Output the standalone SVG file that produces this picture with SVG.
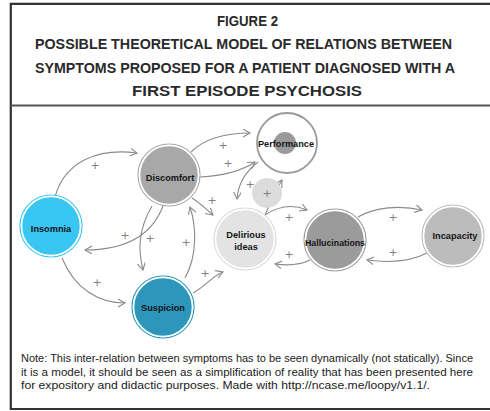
<svg xmlns="http://www.w3.org/2000/svg" width="490" height="411" viewBox="0 0 490 411">
<defs>
<marker id="arr" markerWidth="10" markerHeight="10" refX="7" refY="4" orient="auto" markerUnits="userSpaceOnUse">
<path d="M0,0 L7,4 L0,8" fill="none" stroke="#8a8a8a" stroke-width="1.1"/>
</marker>
</defs>
<style>
.title{font-family:"Liberation Sans",Arial,sans-serif;font-weight:bold;font-size:14px;fill:#2a2a2a;text-anchor:middle}
.note{font-family:"Liberation Sans",Arial,sans-serif;font-size:11px;fill:#222}
.edge{fill:none;stroke:#8a8a8a;stroke-width:1.1;marker-end:url(#arr)}
.plus{font-family:"DejaVu Sans",sans-serif;font-size:11px;fill:#808080;text-anchor:middle}
.lbl{font-family:"Liberation Sans",Arial,sans-serif;font-weight:bold;font-size:9.2px;fill:#151515;text-anchor:middle}
.ring{fill:none;stroke-width:1.2}
.core{stroke:#fff;stroke-width:1.6}
</style>
<rect x="0" y="0" width="490" height="411" fill="#fff"/>
<g id="frame">
<path d="M492,3.8 L10.8,3.8 L10.8,409 L492,409" fill="none" stroke="#333" stroke-width="2.2"/>
<line x1="10.8" y1="105.5" x2="492" y2="105.5" stroke="#555" stroke-width="2"/>
</g>
<g id="title">
<text class="title" x="247.5" y="26" textLength="61" lengthAdjust="spacingAndGlyphs">FIGURE 2</text>
<text class="title" x="243.5" y="49" textLength="417" lengthAdjust="spacingAndGlyphs">POSSIBLE THEORETICAL MODEL OF RELATIONS BETWEEN</text>
<text class="title" x="245" y="73" textLength="420" lengthAdjust="spacingAndGlyphs">SYMPTOMS PROPOSED FOR A PATIENT DIAGNOSED WITH A</text>
<text class="title" x="247" y="96" textLength="230" lengthAdjust="spacingAndGlyphs">FIRST EPISODE PSYCHOSIS</text>
</g>
<g id="connectors">
<path class="edge" d="M55,197 C65,160 100,148 137,153"/>
<path class="edge" d="M163,206 C150,240 120,250 85,250"/>
<path class="edge" d="M62,258 C75,290 100,303 125,303"/>
<path class="edge" d="M152,206 C138,230 138,250 143,270"/>
<path class="edge" d="M185,278 C198,255 196,225 190,207"/>
<path class="edge" d="M193,293 C205,287 212,276 223,272"/>
<path class="edge" d="M192,198 C200,203 206,209 213,215"/>
<path class="edge" d="M191,152 C205,138 225,133 250,133"/>
<path class="edge" d="M200,177 C220,176 240,172 255,162"/>
<path class="edge" d="M258,162 C245,172 238,185 237,199"/>
<path class="edge" d="M265,215 C272,200 276,190 282,180"/>
<path class="edge" d="M265,215 C280,205 295,205 307,210"/>
<path class="edge" d="M310,260 C300,265 290,266 275,264"/>
<path class="edge" d="M358,217 C375,207 400,205 422,210"/>
<path class="edge" d="M427,253 C410,262 390,263 367,260"/>
<text class="plus" x="95" y="169">+</text>
<text class="plus" x="125" y="239">+</text>
<text class="plus" x="97" y="286">+</text>
<text class="plus" x="150" y="242">+</text>
<text class="plus" x="186" y="246">+</text>
<text class="plus" x="205" y="277">+</text>
<text class="plus" x="212" y="204">+</text>
<text class="plus" x="223" y="149">+</text>
<text class="plus" x="228" y="167">+</text>
<text class="plus" x="250" y="188">+</text>
<text class="plus" x="289" y="221">+</text>
<text class="plus" x="289" y="258">+</text>
<text class="plus" x="393" y="221">+</text>
<text class="plus" x="393" y="256">+</text>
</g>
<g id="signal">
<circle cx="267" cy="193" r="15" fill="#dcdcdc"/>
<text class="plus" x="267" y="197">+</text>
</g>
<g id="insomnia">
<circle class="ring" cx="51" cy="226" r="31" stroke="#3ac6f2"/>
<circle class="core" cx="51" cy="226" r="29.5" fill="#3ac6f2"/>
<text class="lbl" x="51" y="232">Insomnia</text>
</g>
<g id="discomfort">
<circle class="ring" cx="169" cy="175" r="31" stroke="#a8a8a8"/>
<circle class="core" cx="169" cy="175" r="29.5" fill="#a8a8a8"/>
<text class="lbl" x="170" y="181">Discomfort</text>
</g>
<g id="suspicion">
<circle class="ring" cx="163" cy="307" r="31" stroke="#2c97bb"/>
<circle class="core" cx="163" cy="307" r="29.5" fill="#2c97bb"/>
<text class="lbl" x="163" y="311">Suspicion</text>
</g>
<g id="delirious">
<circle class="ring" cx="245" cy="239" r="31" stroke="#dadada"/>
<circle class="core" cx="245" cy="239" r="29.5" fill="#e3e3e3"/>
<text class="lbl" x="246" y="238">Delirious</text>
<text class="lbl" x="246" y="250">ideas</text>
</g>
<g id="performance">
<circle cx="287" cy="143" r="30" fill="#fff" stroke="#9a9a9a" stroke-width="1.8"/>
<circle cx="285" cy="143" r="11" fill="#9a9a9a"/>
<text class="lbl" x="286" y="146.5" textLength="56" lengthAdjust="spacingAndGlyphs">Performance</text>
</g>
<g id="hallucinations">
<circle class="ring" cx="335" cy="240" r="31" stroke="#9b9b9b"/>
<circle class="core" cx="335" cy="240" r="29.5" fill="#9b9b9b"/>
<text class="lbl" x="335" y="246" textLength="60" lengthAdjust="spacingAndGlyphs">Hallucinations</text>
</g>
<g id="incapacity">
<circle class="ring" cx="453" cy="236" r="31" stroke="#bcbcbc"/>
<circle class="core" cx="453" cy="236" r="29.5" fill="#bcbcbc"/>
<text class="lbl" x="455" y="239">Incapacity</text>
</g>
<g id="note">
<text class="note" x="21" y="362" textLength="452" lengthAdjust="spacingAndGlyphs">Note: This inter-relation between symptoms has to be seen dynamically (not statically). Since</text>
<text class="note" x="21" y="376" textLength="452" lengthAdjust="spacingAndGlyphs">it is a model, it should be seen as a simplification of reality that has been presented here</text>
<text class="note" x="21" y="389" textLength="409" lengthAdjust="spacingAndGlyphs">for expository and didactic purposes. Made with http://ncase.me/loopy/v1.1/.</text>
</g>
</svg>
